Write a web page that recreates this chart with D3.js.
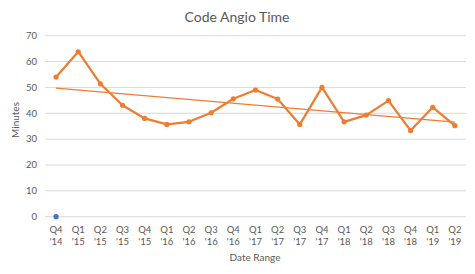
<!DOCTYPE html>
<html lang="en">
<head>
<meta charset="UTF-8">
<title>Code Angio Time</title>
<script src="https://cdn.jsdelivr.net/npm/d3@7"></script>
<style>
  body { margin: 0; background: #fff; }
  text { font-family: Lato, "Open Sans", sans-serif; fill: #595959; }
</style>
</head>
<body>
<svg id="chart" width="475" height="274"></svg>
<script>
// data
const quarters = ["Q4", "Q1", "Q2", "Q3", "Q4", "Q1", "Q2", "Q3", "Q4", "Q1", "Q2", "Q3", "Q4", "Q1", "Q2", "Q3", "Q4", "Q1", "Q2"];
const years = ["'14", "'15", "'15", "'15", "'15", "'16", "'16", "'16", "'16", "'17", "'17", "'17", "'17", "'18", "'18", "'18", "'18", "'19", "'19"];
const minutes = [54.0, 63.8, 51.4, 43.1, 38.0, 35.7, 36.7, 40.2, 45.6, 49.0, 45.5, 35.7, 50.0, 36.7, 39.3, 44.9, 33.3, 42.3, 35.2];
const baseline = [0]; // second series, only the first quarter has a value
const yTicks = [0, 10, 20, 30, 40, 50, 60, 70];

const svg = d3.select("#chart");
const plotL = 45, plotR = 466, plotT = 35.7, plotB = 216.7;

const cats = quarters.map((q, i) => i);
const x = d3.scaleBand().domain(cats).range([plotL, plotR]);
const cx = i => x(i) + x.bandwidth() / 2;
const y = d3.scaleLinear().domain([0, 70]).range([plotB, plotT]);

// gridlines
svg.append("g").selectAll("line").data(yTicks).join("line")
   .attr("x1", plotL).attr("x2", plotR)
   .attr("y1", d => y(d)).attr("y2", d => y(d))
   .attr("stroke", "#d9d9d9").attr("stroke-width", 1);

// y axis labels
svg.append("g").selectAll("text").data(yTicks).join("text")
   .attr("x", 37).attr("y", d => y(d)).attr("dy", "0.35em")
   .attr("text-anchor", "end").attr("font-size", 9.5)
   .text(d => d);

// x axis labels (two lines)
const xl = svg.append("g").selectAll("text").data(cats).join("text")
   .attr("text-anchor", "middle").attr("font-size", 9.5);
xl.append("tspan").attr("x", i => cx(i)).attr("y", 233).text(i => quarters[i]);
xl.append("tspan").attr("x", i => cx(i)).attr("y", 245).text(i => years[i]);

// linear trend line (least squares)
const n = minutes.length;
const mx = d3.mean(cats), my = d3.mean(minutes);
let sxy = 0, sxx = 0;
cats.forEach(i => { sxy += (i - mx) * (minutes[i] - my); sxx += (i - mx) * (i - mx); });
const slope = sxy / sxx, icpt = my - slope * mx;
svg.append("line")
   .attr("x1", cx(0)).attr("y1", y(icpt))
   .attr("x2", cx(n - 1)).attr("y2", y(icpt + slope * (n - 1)))
   .attr("stroke", "#ED7D31").attr("stroke-width", 1.3);

// main series
const line = d3.line().x((d, i) => cx(i)).y(d => y(d));
svg.append("path").datum(minutes)
   .attr("d", line).attr("fill", "none")
   .attr("stroke", "#ED7D31").attr("stroke-width", 2.25)
   .attr("stroke-linejoin", "round");
svg.append("g").selectAll("circle").data(minutes).join("circle")
   .attr("cx", (d, i) => cx(i)).attr("cy", d => y(d)).attr("r", 2.6)
   .attr("fill", "#ED7D31");

svg.append("g").selectAll("circle").data(baseline).join("circle")
   .attr("cx", (d, i) => cx(i)).attr("cy", d => y(d)).attr("r", 2.6)
   .attr("fill", "#4472C4");

// titles
svg.append("text").attr("x", 237).attr("y", 22)
   .attr("text-anchor", "middle").attr("font-size", 14)
   .text("Code Angio Time");
svg.append("text").attr("transform", "translate(19,120) rotate(-90)")
   .attr("text-anchor", "middle").attr("font-size", 10)
   .text("Minutes");
svg.append("text").attr("x", 255).attr("y", 261)
   .attr("text-anchor", "middle").attr("font-size", 10)
   .text("Date Range");
</script>
</body>
</html>
